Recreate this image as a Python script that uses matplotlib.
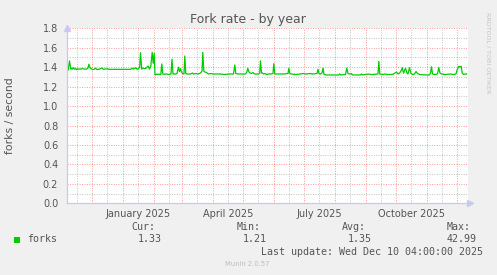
import matplotlib
matplotlib.use('Agg')
import matplotlib.pyplot as plt
from matplotlib.patches import Rectangle
from datetime import datetime, timedelta

W, H = 497, 275

# time axis: 400 days ending Wed Dec 10 04:00 2025
start = datetime(2024, 11, 5, 4, 0)
end = datetime(2025, 12, 10, 4, 0)

# day offset from start, fork rate (forks / second)
days = [0.5, 1.7, 3, 4.3, 5, 6, 7, 8, 9, 10, 11, 12, 14, 16, 18, 20, 21.5, 22.3, 23.3, 24,
        25, 26, 28, 29, 30, 31, 33, 34, 35.7, 37, 40.7, 42, 64, 65.7, 67, 69, 70.7, 72.3, 73.2, 74,
        75.2, 76.5, 78, 79.5, 81.7, 83, 84.3, 85.7, 86.7, 87.7, 88.5, 90, 94.3, 95.3, 96.3, 98, 100, 102, 104.5, 105.5,
        106.5, 109, 110.5, 112, 113, 114, 115, 116, 117.5, 118.3, 119.3, 121, 124, 126, 127, 129, 131, 133, 134.5, 135.5,
        136.3, 137.3, 138.5, 140, 142, 144, 147, 150, 154, 158, 162, 167, 168.3, 169.3, 172, 176, 179, 180.3, 181.3, 182.5,
        183.5, 185, 186.5, 188, 192, 193.2, 194, 195, 196, 197, 198.5, 200, 202, 204, 206.5, 207.3, 208.3, 210, 214, 217,
        221.5, 222.3, 223.3, 225, 229, 234, 237, 239, 244, 246, 250.5, 251.5, 252.5, 254, 255.5, 256.5, 257.5, 260, 267, 272,
        273, 274, 279, 280.3, 281.5, 284, 285, 286, 294, 295, 296, 299, 302, 304, 306, 311.5, 312.3, 313.3, 316, 319,
        321, 325, 327, 330, 331.5, 333, 334.5, 335.7, 337, 339, 340.5, 341.5, 343, 344.5, 346, 348, 349.5, 351, 353, 359,
        363, 364, 365, 366, 368, 371, 372.3, 373.5, 375, 379, 384, 387, 389.5, 390.5, 392.3, 393.5, 394.7, 395.7, 397, 399,
        400]
forks = [1.39, 1.37, 1.464, 1.38, 1.39, 1.38, 1.395, 1.38, 1.385, 1.375, 1.385, 1.38, 1.38, 1.385, 1.38, 1.38, 1.39, 1.43, 1.40, 1.39,
         1.385, 1.375, 1.38, 1.39, 1.38, 1.375, 1.38, 1.385, 1.39, 1.378, 1.385, 1.378, 1.378, 1.39, 1.38, 1.395, 1.378, 1.39, 1.40, 1.549,
         1.38, 1.39, 1.385, 1.39, 1.412, 1.38, 1.41, 1.553, 1.44, 1.543, 1.32, 1.327, 1.327, 1.433, 1.33, 1.327, 1.33, 1.325, 1.33, 1.482,
         1.33, 1.33, 1.335, 1.40, 1.355, 1.385, 1.35, 1.335, 1.33, 1.515, 1.335, 1.33, 1.33, 1.34, 1.33, 1.335, 1.33, 1.335, 1.345, 1.36,
         1.553, 1.36, 1.35, 1.345, 1.33, 1.335, 1.33, 1.33, 1.33, 1.325, 1.33, 1.33, 1.423, 1.335, 1.33, 1.33, 1.33, 1.35, 1.388, 1.35,
         1.34, 1.335, 1.345, 1.33, 1.33, 1.34, 1.465, 1.34, 1.34, 1.33, 1.335, 1.325, 1.33, 1.33, 1.335, 1.436, 1.33, 1.33, 1.33, 1.33,
         1.335, 1.388, 1.335, 1.33, 1.325, 1.33, 1.335, 1.33, 1.335, 1.33, 1.335, 1.378, 1.335, 1.33, 1.34, 1.39, 1.325, 1.32, 1.32, 1.32,
         1.33, 1.32, 1.325, 1.39, 1.335, 1.33, 1.335, 1.32, 1.32, 1.33, 1.32, 1.325, 1.33, 1.325, 1.325, 1.33, 1.46, 1.33, 1.325, 1.33,
         1.325, 1.325, 1.33, 1.35, 1.33, 1.34, 1.36, 1.395, 1.34, 1.39, 1.34, 1.33, 1.395, 1.335, 1.325, 1.33, 1.355, 1.335, 1.325, 1.32,
         1.32, 1.34, 1.405, 1.33, 1.325, 1.33, 1.395, 1.34, 1.33, 1.325, 1.33, 1.325, 1.33, 1.37, 1.41, 1.40, 1.41, 1.34, 1.325, 1.33,
         1.33]

y_ticks = [0.0, 0.2, 0.4, 0.6, 0.8, 1.0, 1.2, 1.4, 1.6, 1.8]
quarter_labels = ['January 2025', 'April 2025', 'July 2025', 'October 2025']
quarter_months = [(2025, 1), (2025, 4), (2025, 7), (2025, 10)]

legend_heads = ['Cur:', 'Min:', 'Avg:', 'Max:']
legend_vals = ['1.33', '1.21', '1.35', '42.99']

TXT = '#555555'
GREEN = '#00cc00'
AXIS = '#c8c8f5'


def day_of(dt):
    return (dt - start).total_seconds() / 86400.0


fig = plt.figure(figsize=(W / 100, H / 100), dpi=100)
fig.patch.set_facecolor('#f0f0f0')

x0, x1, yt, yb = 66.5, 468.0, 28.3, 203.3
ax = fig.add_axes([x0 / W, 1 - yb / H, (x1 - x0) / W, (yb - yt) / H])
ax.set_facecolor('white')
span = day_of(end) * (x1 - x0) / 400.0
ax.set_xlim(0, span)
ax.set_ylim(0, 1.8)

# minor / major grid
for v in [i / 10 for i in range(1, 18, 2)]:
    ax.axhline(v, color='#8f8f8f', alpha=0.55, lw=0.7, ls=(0, (1, 1.5)), zorder=1)
for v in y_ticks[1:]:
    ax.axhline(v, color='#ff0000', alpha=0.4, lw=0.7, ls=(0, (1, 1.5)), zorder=1)

months = []
m = datetime(2024, 12, 1)
while m < end:
    months.append(m)
    m = datetime(m.year + (m.month // 12), m.month % 12 + 1, 1)
for mo in months:
    ax.axvline(day_of(mo), color='#ff0000', alpha=0.4, lw=0.7, ls=(0, (1, 1.5)), zorder=1)
    mid = day_of(mo + timedelta(days=15))
    if mid < span:
        ax.axvline(mid, color='#8f8f8f', alpha=0.55, lw=0.7, ls=(0, (1, 1.5)), zorder=1)
first_mid = day_of(datetime(2024, 11, 16))
ax.axvline(first_mid, color='#8f8f8f', alpha=0.55, lw=0.7, ls=(0, (1, 1.5)), zorder=1)

ax.plot(days, forks, color=GREEN, lw=0.9, zorder=3)

for s in ax.spines.values():
    s.set_visible(False)
ax.axhline(0, color=AXIS, lw=0.9, zorder=4, clip_on=False)
ax.axvline(0, color=AXIS, lw=0.9, zorder=4, clip_on=False)
ax.plot([0], [1.8], marker='^', color=AXIS, ms=4, clip_on=False, zorder=5,
        transform=ax.transData)
ax.plot([1.005], [0], marker='>', color=AXIS, ms=4, clip_on=False, zorder=5,
        transform=ax.get_yaxis_transform())

ax.set_yticks(y_ticks)
ax.set_yticklabels([f'{v:.1f}' for v in y_ticks])
ax.tick_params(axis='y', length=0, pad=6, labelsize=7, labelcolor=TXT)
ax.set_xticks([day_of(datetime(y, mth, 1) + timedelta(days=15)) for y, mth in quarter_months])
ax.set_xticklabels(quarter_labels)
ax.tick_params(axis='x', length=0, pad=4, labelsize=7, labelcolor=TXT)

ax.set_ylabel('forks / second', fontsize=7.8, color=TXT)
ax.yaxis.set_label_coords(-(x0 - 15.5) / (x1 - x0), 0.5)


def px(x, y):
    return x / W, 1 - y / H


fig.text(*px(248, 20), 'Fork rate - by year', ha='center', va='center',
         fontsize=9, color=TXT)
fig.text(*px(488.5, 53), 'RRDTOOL / TOBI OETIKER', ha='center', va='center',
         rotation=270, fontsize=4.6, color='#c4c4c4')

mono = 'DejaVu Sans Mono'
head_x = [131.7, 236.7, 342.0, 446.7]
val_x = [137.7, 243.0, 348.0, 446.7]
for hx, h in zip(head_x, legend_heads):
    fig.text(*px(hx, 227.5), h, ha='left', va='center', family=mono, fontsize=7.2, color=TXT)
for vx, v in zip(val_x, legend_vals):
    fig.text(*px(vx, 239.5), v, ha='left', va='center', family=mono, fontsize=7.2, color=TXT)
fig.text(*px(26.7, 239.5), 'forks', ha='left', va='center', family=mono, fontsize=7.2, color=TXT)
fig.patches.append(Rectangle(px(14, 243), 6 / W, 6 / H, transform=fig.transFigure,
                             facecolor=GREEN, edgecolor='none'))
fig.text(*px(261, 252), 'Last update: Wed Dec 10 04:00:00 2025', ha='left', va='center',
         family=mono, fontsize=7.2, color=TXT)
fig.text(*px(247.5, 263.5), 'Munin 2.0.57', ha='center', va='center',
         fontsize=4.9, color='#bdbdbd')

fig.savefig('out.png', dpi=100, facecolor=fig.get_facecolor())
